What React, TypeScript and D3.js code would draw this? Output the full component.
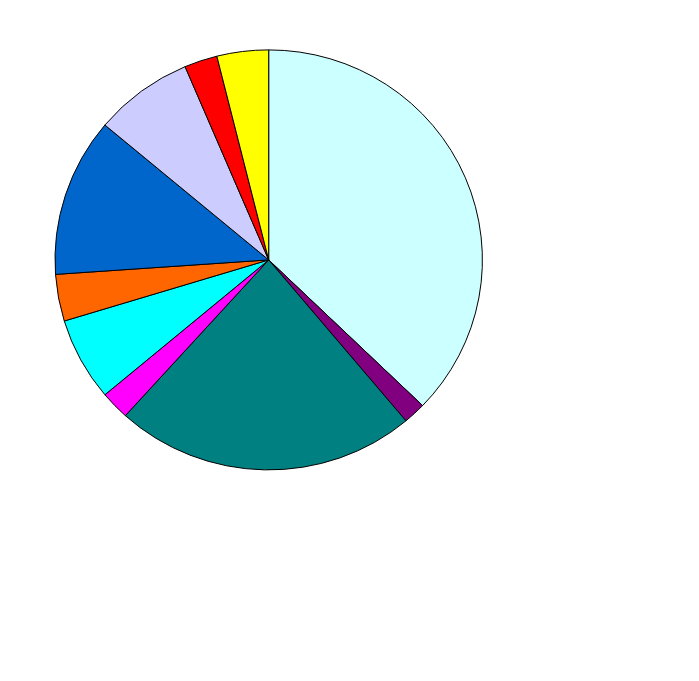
import React from "react";
import * as d3 from "d3";

const categories = ["A", "B", "C", "D", "E", "F", "G", "H", "I", "J"];
const values = [37.2, 1.7, 22.8, 2.2, 6.4, 3.6, 12.2, 7.5, 2.5, 3.9];
const colors = [
  "#CCFFFF",
  "#800080",
  "#008080",
  "#FF00FF",
  "#00FFFF",
  "#FF6600",
  "#0066CC",
  "#CCCCFF",
  "#FF0000",
  "#FFFF00",
];

const W = 699;
const H = 681;
const CX = 268.7;
const CY = 259.9;
const RX = 213.7;
const RY = 210;

export default function App() {
  const data = categories.map((c, i) => ({ name: c, value: values[i], color: colors[i] }));
  const pie = d3
    .pie<{ name: string; value: number; color: string }>()
    .value((d) => d.value)
    .sort(null);
  const arc = d3
    .arc<d3.PieArcDatum<{ name: string; value: number; color: string }>>()
    .innerRadius(0)
    .outerRadius(RY);
  const arcs = pie(data);
  return (
    <svg
      width={W}
      height={H}
      style={{ position: "absolute", left: 0, top: 0, background: "#fff" }}
    >
      <rect x={0} y={0} width={W} height={H} fill="#fff" />
      <g transform={`translate(${CX},${CY}) scale(${RX / RY},1)`}>
        {arcs.map((a) => (
          <path
            key={a.data.name}
            d={arc(a) || ""}
            fill={a.data.color}
            stroke="#000"
            strokeWidth={1}
            vectorEffect="non-scaling-stroke"
          />
        ))}
      </g>
    </svg>
  );
}
